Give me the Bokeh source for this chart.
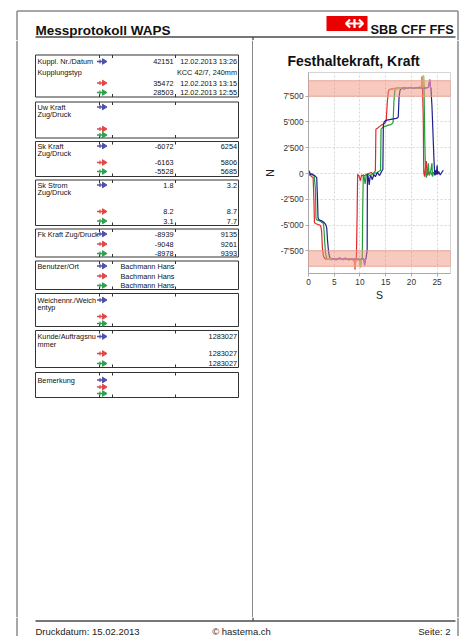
from bokeh.plotting import figure
from bokeh.layouts import column, row
from bokeh.models import Range1d, CustomJSTickFormatter, BoxAnnotation
from bokeh.core.properties import value
from bokeh.embed import file_html
from bokeh.resources import INLINE

# ---------------- data ----------------
page_title = "Messprotokoll WAPS"
logo_text = "SBB CFF FFS"
chart_title = "Festhaltekraft, Kraft"
footer_left = "Druckdatum: 15.02.2013"
footer_mid = "\u00a9 hastema.ch"
footer_right = "Seite: 2"

box_label_lines = [
    ["Kuppl. Nr./Datum", "Kupplungstyp"],
    ["Uw Kraft", "Zug/Druck"],
    ["Sk Kraft", "Zug/Druck"],
    ["Sk Strom", "Zug/Druck"],
    ["Fk Kraft Zug/Druck"],
    ["Benutzer/Ort"],
    ["Weichennr./Weich", "entyp"],
    ["Kunde/Auftragsnu", "mmer"],
    ["Bemerkung"],
]
kupplungstyp = "KCC 42/7, 240mm"
kuppl_nr = ["42151", "35472", "28503"]
kuppl_datum = ["12.02.2013 13:26", "12.02.2013 13:15", "12.02.2013 12:55"]
sk_kraft_zug = ["-6072", "-6163", "-5528"]
sk_kraft_druck = ["6254", "5806", "5685"]
sk_strom_zug = ["1.8", "8.2", "3.1"]
sk_strom_druck = ["3.2", "8.7", "7.7"]
fk_kraft_zug = ["-8939", "-9048", "-8978"]
fk_kraft_druck = ["9135", "9261", "9393"]
benutzer = ["Bachmann Hans", "Bachmann Hans", "Bachmann Hans"]
auftrag = ["1283027", "1283027", "1283027"]

mid_values = [kuppl_nr, None, sk_kraft_zug, sk_strom_zug, fk_kraft_zug, None, None, None, None]
right_values = [kuppl_datum, None, sk_kraft_druck, sk_strom_druck, fk_kraft_druck, None, None, auftrag, None]
name_values = [None, None, None, None, None, benutzer, None, None, None]

x_ticks = [0, 5, 10, 15, 20, 25]
y_ticks = [-7500, -5000, -2500, 0, 2500, 5000, 7500]
band_low = [7500, -9000]
band_high = [9000, -7500]

blue_t = [0.0, 0.2, 0.4, 0.7, 1.0, 1.3, 1.6, 1.75, 1.85, 2.0, 2.3, 2.6, 2.9, 3.2, 3.4, 3.55, 3.7, 3.9, 4.1, 4.3,
          4.8, 5.4, 6.0, 6.6, 7.2, 7.8, 8.4, 9.0, 9.6, 10.2, 10.6, 10.8, 10.9, 11.0, 11.15, 11.3, 11.4, 11.45, 11.6, 11.8,
          11.95, 12.1, 12.4, 12.7, 13.0, 13.4, 13.8, 14.2, 14.45, 14.55, 14.7, 15.0, 15.5, 16.0, 16.5, 17.0, 17.3, 17.45,
          17.6, 17.8, 18.0,
          18.6, 19.2, 19.8, 20.4, 21.0, 21.6, 22.2, 22.8, 23.3, 23.6, 23.7, 23.8, 24.0, 24.2, 24.4, 24.55, 24.7, 24.85,
          25.0, 25.1, 25.3, 25.6, 25.9, 26.2]
blue_F = [300, 150, -100, -50, -150, -250, -400, -2500, -4300, -4450, -4550, -4600, -4700, -4850, -5000, -5300, -6500,
          -7600, -8100, -8300,
          -8250, -8350, -8200, -8300, -8250, -8350, -8300, -8250, -8350, -8300, -8250, -8400, -8900, -8350, -8300, -7800,
          -7500, -100, -300, -1100, -400, -200, -600, -100, -300, 100, -200, 200, 400, 4700, 5000, 5150, 5200, 5250,
          5300, 5350, 5400, 5500, 7400, 8100, 8250,
          8300, 8250, 8350, 8250, 8300, 8350, 8250, 8300, 8350, 9100, 8400, 8250, 6500, 3800, 1200, -200, 300, -100,
          800, -100, 200, -150, 100, 300]

red_t = [0.0, 0.3, 0.6, 0.9, 1.05, 1.15, 1.3, 1.6, 1.9, 2.2, 2.4, 2.55, 2.7, 2.9, 3.1, 3.3,
         3.8, 4.4, 5.0, 5.6, 6.2, 6.8, 7.4, 8.0, 8.6, 8.9, 9.05, 9.15, 9.3, 9.45, 9.55, 9.8, 10.1, 10.3, 10.7, 11.2,
         11.7, 12.2, 12.6, 12.9, 13.0, 13.1, 13.4, 13.8, 14.2, 14.6, 14.9, 15.1, 15.3, 15.5, 15.7,
         16.2, 16.8, 17.4, 18.0, 18.6, 19.2, 19.8, 20.4, 21.0, 21.6, 21.95, 22.05, 22.15, 22.3, 22.4, 22.55, 22.7,
         22.9, 23.05, 23.2, 23.4, 23.7, 24.0, 24.3, 24.6, 25.0]
red_F = [-200, -100, -300, -400, -2500, -4700, -4850, -4900, -4950, -5000, -5150, -5600, -7200, -8000, -8200, -8300,
         -8250, -8350, -8300, -8250, -8300, -8350, -8250, -8300, -8350, -8400, -9300, -8500, -8300, -4000, -100, -200,
         -700, -150, -250, -100, 0, 100, -100, 200, 300, 4300, 4400, 4550, 4700, 4800, 4900, 5100, 6800, 7900, 8150,
         8200, 8250, 8300, 8250, 8200, 8300, 8250, 8300, 8250, 8300, 8350, 9400, 8500, 5500, 100, -300, 400, 1200,
         -200, 300, -100, 200, -150, 100, -100, 50]

green_t = [0.0, 0.4, 0.8, 1.1, 1.35, 1.45, 1.6, 1.9, 2.2, 2.5, 2.8, 2.95, 3.1, 3.3, 3.5, 3.7,
           4.2, 4.8, 5.4, 6.0, 6.6, 7.2, 7.8, 8.4, 9.0, 9.6, 10.0, 10.1, 10.25, 10.45, 10.55, 10.65, 10.8, 11.0, 11.2,
           11.5, 11.9, 12.3, 12.8, 13.2, 13.6, 14.0, 14.1, 14.4, 14.7, 15.0, 15.5, 16.0, 16.3, 16.45, 16.6, 16.8,
           17.3, 17.9, 18.5, 19.1, 19.7, 20.3, 20.9, 21.5, 22.0, 22.25, 22.35, 22.45, 22.6, 22.75, 22.9, 23.1, 23.3,
           23.45, 23.7, 24.0, 24.1, 24.3, 24.6, 24.9, 25.2]
green_F = [-100, 0, -150, -250, -1500, -4300, -4500, -4550, -4600, -4700, -4800, -5000, -6200, -7700, -8150, -8300,
           -8250, -8300, -8350, -8250, -8300, -8200, -8350, -8300, -8250, -8300, -8350, -9100, -8400, -8300, -3000,
           -100, -300, -1000, -200, 0, -200, -100, 100, 0, 200, 300, 4300, 4450, 4550, 4600, 4700, 4750, 4850, 5000,
           7000, 8100,
           8250, 8300, 8200, 8300, 8250, 8300, 8250, 8300, 8350, 8300, 9500, 8400, 3200, 100, -400, 200, 1000, -200,
           100, 1000, -300, 100, -100, 200, -50]

# holding phases (drawn in lighter colours)
blue_hold = [(4.3, 11.15), (18.0, 23.8)]
red_hold = [(3.3, 9.3), (15.7, 22.15)]
green_hold = [(3.7, 10.45), (16.8, 22.45)]

# ---------------- styling / layout ----------------
FONT = "Liberation Sans"
M = 0                 # page origin
TOT_W = 460
TOT_H = 636
HDR_B = 40            # header bottom (window y)
ROW_B = 617           # main row bottom (window y)
FOOT_LINE = 620.5
FOOT_TEXT = 630.5
BORDER = "#8a8a8a"
DARK = "#4a4a4a"
BOXC = "#333333"
ARROW_COLS = ["#5050a8", "#e04848", "#2fa04f"]
C_BLUE, C_RED, C_GREEN = "#1f1f8f", "#e8262a", "#1f9e38"
L_BLUE, L_RED, L_GREEN = "#9966dd", "#f4846c", "#9bd84a"


def no_align(p):
    try:
        p.frame_align = False
    except Exception:
        pass


def blank(x0, x1, y0, y1):
    w = int(round(x1 - x0))
    h = int(round(y1 - y0))
    p = figure(width=w, height=h, frame_width=w, frame_height=h,
               x_range=Range1d(x0, x1), y_range=Range1d(y1, y0),
               x_axis_location=None, y_axis_location=None, title=None,
               output_backend="svg", toolbar_location=None, tools="", min_border=0)
    no_align(p)
    p.grid.visible = False
    p.outline_line_color = None
    p.background_fill_color = "white"
    p.border_fill_color = "white"
    return p


def txt(p, x, y, s, size, align="left", baseline="middle", bold=False, color="#111111"):
    p.text(x=[x], y=[y], text=[s], text_font=value(FONT), text_font_size=value(size),
           text_font_style="bold" if bold else "normal", text_align=align,
           text_baseline=baseline, text_color=color)


# ---- header ----
hdr = blank(M, M + TOT_W, M, HDR_B)
hdr.segment(x0=[16.5, 16.5, 457.5], y0=[10.5, 10.5, 10.5], x1=[457.5, 16.5, 457.5], y1=[10.5, HDR_B, HDR_B],
            line_color=BORDER, line_width=1.5)
hdr.segment(x0=[35, 252.5], y0=[36.5, 36.5], x1=[455, 252.5], y1=[36.5, HDR_B], line_color=DARK, line_width=1.3)
txt(hdr, 35, 29.5, page_title, "13.5px", baseline="alphabetic", bold=True)
hdr.quad(left=[326], right=[367], top=[15.5], bottom=[30.5], fill_color="#eb0000", line_color=None)
hdr.multi_line(xs=[[349.5, 345.5, 349.5], [358.5, 362.5, 358.5], [346, 362], [354, 354]],
               ys=[[19, 23, 27], [19, 23, 27], [23, 23], [18.5, 27.5]], line_color="white", line_width=2.2)
txt(hdr, 370, 28.5, logo_text, "12.8px", baseline="alphabetic", bold=True)

# ---- left table ----
lf = blank(M, 253, HDR_B, ROW_B)
lf.segment(x0=[16.5], y0=[HDR_B], x1=[16.5], y1=[ROW_B], line_color=BORDER, line_width=1.5)
lf.segment(x0=[252.5], y0=[HDR_B], x1=[252.5], y1=[ROW_B], line_color=DARK, line_width=1.3)

box_geom = [
    (54.5, 96.5, [61, 72], [61, 82.5, 92]),
    (101.5, 137.5, [106.5, 113.5], [106.5, 128.5, 134.5]),
    (141, 176, [145.5, 152.5], [145.5, 162, 171]),
    (179.5, 225, [184.5, 192], [184.5, 211, 220.5]),
    (228.5, 256.5, [233.5], [233.5, 243.5, 253]),
    (260.5, 289, [265.5], [265.5, 275.5, 285]),
    (293, 326, [299.5, 307], [299.5, 316, 323]),
    (330, 367, [336, 343.5], [336, 353, 363]),
    (372, 397, [379.5], [379.5, 386.5, 393]),
]
TS = "7.3px"
lf.quad(left=[35] * len(box_geom), right=[238] * len(box_geom),
        top=[g[0] for g in box_geom], bottom=[g[1] for g in box_geom],
        fill_color=None, line_color=BOXC, line_width=1)
tick_x = [99, 112, 175]
tx0, ty0, tx1, ty1 = [], [], [], []
for g in box_geom:
    for xx in tick_x:
        tx0 += [xx, xx]; tx1 += [xx, xx]
        ty0 += [g[0], g[1]]; ty1 += [g[0] + 3, g[1] - 3]
lf.segment(x0=tx0, y0=ty0, x1=tx1, y1=ty1, line_color=BOXC, line_width=1)

for i, g in enumerate(box_geom):
    top, bot, lab_ys, row_ys = g
    for s, yy in zip(box_label_lines[i], lab_ys):
        txt(lf, 37, yy, s, TS)
    for yy, col in zip(row_ys, ARROW_COLS):
        lf.segment(x0=[96.5], y0=[yy], x1=[103], y1=[yy], line_color=col, line_width=1.4)
        lf.segment(x0=[99.5], y0=[yy - 2], x1=[99.5], y1=[yy + 2], line_color=col, line_width=1.2)
        lf.patches(xs=[[102, 106.5, 102]], ys=[[yy - 2.8, yy, yy + 2.8]], fill_color=col, line_color=col)
    if mid_values[i] is not None:
        for s, yy in zip(mid_values[i], row_ys):
            txt(lf, 173, yy, s, TS, align="right")
    if right_values[i] is not None:
        for s, yy in zip(right_values[i], row_ys):
            txt(lf, 236.5, yy, s, TS, align="right")
    if name_values[i] is not None:
        for s, yy in zip(name_values[i], row_ys):
            txt(lf, 120, yy, s, TS)
txt(lf, 236.5, box_geom[0][2][1], kupplungstyp, TS, align="right")

# ---- chart ----
CH_H = ROW_B - HDR_B
ch = figure(width=201, height=CH_H, frame_width=142, frame_height=201,
            x_range=Range1d(0, 27.6), y_range=Range1d(-9700, 9800),
            output_backend="svg", toolbar_location=None, tools="",
            min_border_left=55, min_border_right=4, min_border_top=32, min_border_bottom=CH_H - 32 - 201,
            title=chart_title)
no_align(ch)
ch.title.text_font = FONT
ch.title.text_font_size = "14px"
ch.title.text_font_style = "bold"
ch.title.text_color = "#111111"
ch.title.align = "left"
ch.title.offset = -21
ch.title.standoff = 7
ch.background_fill_color = "white"
ch.border_fill_color = "white"
ch.outline_line_color = "#d5d5d5"

for lo, hi in zip(band_low, band_high):
    ch.add_layout(BoxAnnotation(bottom=lo, top=hi, fill_color="#f08a70", fill_alpha=0.45,
                                line_color="#e8a090", line_alpha=0.9, line_width=1))

ch.xaxis.ticker = x_ticks
ch.yaxis.ticker = y_ticks
ch.yaxis.formatter = CustomJSTickFormatter(code="""
const s = Math.round(tick).toString();
return s.replace(/\\B(?=(\\d{3})+(?!\\d))/g, "'");
""")
ch.axis.major_label_text_font = FONT
ch.axis.major_label_text_font_size = "8.3px"
ch.axis.major_label_text_color = "#333333"
ch.axis.axis_line_color = "#aaaaaa"
ch.axis.major_tick_line_color = "#aaaaaa"
ch.axis.major_tick_out = 3
ch.axis.major_tick_in = 0
ch.axis.minor_tick_line_color = None
ch.axis.major_label_standoff = 2
ch.xaxis.axis_label = "S"
ch.yaxis.axis_label = "N"
ch.axis.axis_label_text_font = FONT
ch.axis.axis_label_text_font_style = "normal"
ch.axis.axis_label_text_font_size = "10.5px"
ch.axis.axis_label_text_color = "#222222"
ch.xaxis.axis_label_standoff = 1
ch.yaxis.axis_label_standoff = 2
ch.grid.grid_line_color = "#d6d6d6"
ch.grid.grid_line_dash = "2 2"

series = [(red_t, red_F, C_RED, red_hold, L_RED),
          (green_t, green_F, C_GREEN, green_hold, L_GREEN),
          (blue_t, blue_F, C_BLUE, blue_hold, L_BLUE)]
for t, f, c, _, _ in series:
    assert len(t) == len(f)
    ch.line(t, f, line_color=c, line_width=1.2)
for t, f, _, hold, lc in series:
    for a, b in hold:
        idx = [i for i, tt in enumerate(t) if a <= tt <= b]
        ch.line([t[i] for i in idx], [f[i] for i in idx], line_color=lc, line_width=1.3)

# ---- right border strip ----
rb = blank(454, M + TOT_W, HDR_B, ROW_B)
rb.segment(x0=[457.5], y0=[HDR_B], x1=[457.5], y1=[ROW_B], line_color=BORDER, line_width=1.5)

# ---- footer ----
ftr = blank(M, M + TOT_W, ROW_B, M + TOT_H)
ftr.segment(x0=[16.5, 457.5], y0=[ROW_B, ROW_B], x1=[16.5, 457.5], y1=[M + TOT_H, M + TOT_H],
            line_color=BORDER, line_width=1.5)
ftr.segment(x0=[252.5, 35], y0=[ROW_B, FOOT_LINE], x1=[252.5, 455], y1=[FOOT_LINE, FOOT_LINE],
            line_color=DARK, line_width=1.3)
txt(ftr, 35, FOOT_TEXT, footer_left, "9.5px", baseline="alphabetic", color="#222222")
txt(ftr, 241, FOOT_TEXT, footer_mid, "9.5px", align="center", baseline="alphabetic", color="#222222")
txt(ftr, 450, FOOT_TEXT, footer_right, "9.5px", align="right", baseline="alphabetic", color="#222222")

layout = column(hdr, row(lf, ch, rb), ftr)
open("out.html", "w").write(file_html(layout, INLINE))
